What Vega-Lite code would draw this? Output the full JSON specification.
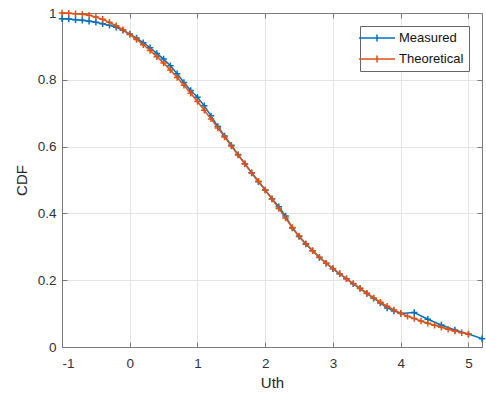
{
  "$schema": "https://vega.github.io/schema/vega-lite/v6.json",
  "width": 420,
  "height": 334,
  "autosize": {"type": "none"},
  "padding": {"left": 62, "top": 13, "right": 4, "bottom": 51},
  "background": "white",
  "config": {
    "view": {"stroke": null},
    "font": "Liberation Sans",
    "axis": {
      "labelFont": "Liberation Sans",
      "titleFont": "Liberation Sans",
      "labelFontSize": 13.5,
      "titleFontSize": 15,
      "titleFontWeight": "normal",
      "labelColor": "#333333",
      "titleColor": "#262626",
      "domainColor": "#7a7a7a",
      "tickColor": "#7a7a7a",
      "gridColor": "#e4e4e4",
      "gridWidth": 1
    }
  },
  "data": {
    "values": [
      {"x": -1.0, "cdf": 0.983, "series": "Measured"},
      {"x": -0.9, "cdf": 0.982, "series": "Measured"},
      {"x": -0.8, "cdf": 0.980, "series": "Measured"},
      {"x": -0.7, "cdf": 0.978, "series": "Measured"},
      {"x": -0.6, "cdf": 0.975, "series": "Measured"},
      {"x": -0.5, "cdf": 0.972, "series": "Measured"},
      {"x": -0.4, "cdf": 0.968, "series": "Measured"},
      {"x": -0.3, "cdf": 0.963, "series": "Measured"},
      {"x": -0.2, "cdf": 0.957, "series": "Measured"},
      {"x": -0.1, "cdf": 0.948, "series": "Measured"},
      {"x": 0.0, "cdf": 0.937, "series": "Measured"},
      {"x": 0.1, "cdf": 0.925, "series": "Measured"},
      {"x": 0.2, "cdf": 0.911, "series": "Measured"},
      {"x": 0.3, "cdf": 0.896, "series": "Measured"},
      {"x": 0.4, "cdf": 0.879, "series": "Measured"},
      {"x": 0.5, "cdf": 0.862, "series": "Measured"},
      {"x": 0.6, "cdf": 0.842, "series": "Measured"},
      {"x": 0.7, "cdf": 0.818, "series": "Measured"},
      {"x": 0.8, "cdf": 0.792, "series": "Measured"},
      {"x": 0.9, "cdf": 0.768, "series": "Measured"},
      {"x": 1.0, "cdf": 0.748, "series": "Measured"},
      {"x": 1.1, "cdf": 0.722, "series": "Measured"},
      {"x": 1.2, "cdf": 0.692, "series": "Measured"},
      {"x": 1.3, "cdf": 0.660, "series": "Measured"},
      {"x": 1.4, "cdf": 0.632, "series": "Measured"},
      {"x": 1.5, "cdf": 0.604, "series": "Measured"},
      {"x": 1.6, "cdf": 0.576, "series": "Measured"},
      {"x": 1.7, "cdf": 0.549, "series": "Measured"},
      {"x": 1.8, "cdf": 0.521, "series": "Measured"},
      {"x": 1.9, "cdf": 0.495, "series": "Measured"},
      {"x": 2.0, "cdf": 0.470, "series": "Measured"},
      {"x": 2.1, "cdf": 0.444, "series": "Measured"},
      {"x": 2.2, "cdf": 0.420, "series": "Measured"},
      {"x": 2.3, "cdf": 0.392, "series": "Measured"},
      {"x": 2.4, "cdf": 0.356, "series": "Measured"},
      {"x": 2.5, "cdf": 0.331, "series": "Measured"},
      {"x": 2.6, "cdf": 0.308, "series": "Measured"},
      {"x": 2.7, "cdf": 0.288, "series": "Measured"},
      {"x": 2.8, "cdf": 0.268, "series": "Measured"},
      {"x": 2.9, "cdf": 0.251, "series": "Measured"},
      {"x": 3.0, "cdf": 0.234, "series": "Measured"},
      {"x": 3.1, "cdf": 0.219, "series": "Measured"},
      {"x": 3.2, "cdf": 0.204, "series": "Measured"},
      {"x": 3.3, "cdf": 0.189, "series": "Measured"},
      {"x": 3.4, "cdf": 0.175, "series": "Measured"},
      {"x": 3.5, "cdf": 0.160, "series": "Measured"},
      {"x": 3.6, "cdf": 0.146, "series": "Measured"},
      {"x": 3.7, "cdf": 0.132, "series": "Measured"},
      {"x": 3.8, "cdf": 0.117, "series": "Measured"},
      {"x": 3.9, "cdf": 0.108, "series": "Measured"},
      {"x": 4.0, "cdf": 0.100, "series": "Measured"},
      {"x": 4.2, "cdf": 0.103, "series": "Measured"},
      {"x": 4.4, "cdf": 0.083, "series": "Measured"},
      {"x": 4.6, "cdf": 0.066, "series": "Measured"},
      {"x": 4.8, "cdf": 0.051, "series": "Measured"},
      {"x": 5.0, "cdf": 0.039, "series": "Measured"},
      {"x": 5.2, "cdf": 0.025, "series": "Measured"},
      {"x": -1.0, "cdf": 1.000, "series": "Theoretical"},
      {"x": -0.9, "cdf": 0.999, "series": "Theoretical"},
      {"x": -0.8, "cdf": 0.998, "series": "Theoretical"},
      {"x": -0.7, "cdf": 0.996, "series": "Theoretical"},
      {"x": -0.6, "cdf": 0.993, "series": "Theoretical"},
      {"x": -0.5, "cdf": 0.988, "series": "Theoretical"},
      {"x": -0.4, "cdf": 0.981, "series": "Theoretical"},
      {"x": -0.3, "cdf": 0.972, "series": "Theoretical"},
      {"x": -0.2, "cdf": 0.962, "series": "Theoretical"},
      {"x": -0.1, "cdf": 0.950, "series": "Theoretical"},
      {"x": 0.0, "cdf": 0.936, "series": "Theoretical"},
      {"x": 0.1, "cdf": 0.921, "series": "Theoretical"},
      {"x": 0.2, "cdf": 0.905, "series": "Theoretical"},
      {"x": 0.3, "cdf": 0.888, "series": "Theoretical"},
      {"x": 0.4, "cdf": 0.869, "series": "Theoretical"},
      {"x": 0.5, "cdf": 0.850, "series": "Theoretical"},
      {"x": 0.6, "cdf": 0.829, "series": "Theoretical"},
      {"x": 0.7, "cdf": 0.807, "series": "Theoretical"},
      {"x": 0.8, "cdf": 0.784, "series": "Theoretical"},
      {"x": 0.9, "cdf": 0.760, "series": "Theoretical"},
      {"x": 1.0, "cdf": 0.735, "series": "Theoretical"},
      {"x": 1.1, "cdf": 0.709, "series": "Theoretical"},
      {"x": 1.2, "cdf": 0.683, "series": "Theoretical"},
      {"x": 1.3, "cdf": 0.656, "series": "Theoretical"},
      {"x": 1.4, "cdf": 0.629, "series": "Theoretical"},
      {"x": 1.5, "cdf": 0.602, "series": "Theoretical"},
      {"x": 1.6, "cdf": 0.575, "series": "Theoretical"},
      {"x": 1.7, "cdf": 0.548, "series": "Theoretical"},
      {"x": 1.8, "cdf": 0.522, "series": "Theoretical"},
      {"x": 1.9, "cdf": 0.496, "series": "Theoretical"},
      {"x": 2.0, "cdf": 0.470, "series": "Theoretical"},
      {"x": 2.1, "cdf": 0.443, "series": "Theoretical"},
      {"x": 2.2, "cdf": 0.415, "series": "Theoretical"},
      {"x": 2.3, "cdf": 0.386, "series": "Theoretical"},
      {"x": 2.4, "cdf": 0.358, "series": "Theoretical"},
      {"x": 2.5, "cdf": 0.332, "series": "Theoretical"},
      {"x": 2.6, "cdf": 0.309, "series": "Theoretical"},
      {"x": 2.7, "cdf": 0.288, "series": "Theoretical"},
      {"x": 2.8, "cdf": 0.269, "series": "Theoretical"},
      {"x": 2.9, "cdf": 0.251, "series": "Theoretical"},
      {"x": 3.0, "cdf": 0.235, "series": "Theoretical"},
      {"x": 3.1, "cdf": 0.219, "series": "Theoretical"},
      {"x": 3.2, "cdf": 0.204, "series": "Theoretical"},
      {"x": 3.3, "cdf": 0.190, "series": "Theoretical"},
      {"x": 3.4, "cdf": 0.176, "series": "Theoretical"},
      {"x": 3.5, "cdf": 0.161, "series": "Theoretical"},
      {"x": 3.6, "cdf": 0.147, "series": "Theoretical"},
      {"x": 3.7, "cdf": 0.134, "series": "Theoretical"},
      {"x": 3.8, "cdf": 0.122, "series": "Theoretical"},
      {"x": 3.9, "cdf": 0.111, "series": "Theoretical"},
      {"x": 4.0, "cdf": 0.101, "series": "Theoretical"},
      {"x": 4.1, "cdf": 0.092, "series": "Theoretical"},
      {"x": 4.2, "cdf": 0.085, "series": "Theoretical"},
      {"x": 4.3, "cdf": 0.078, "series": "Theoretical"},
      {"x": 4.4, "cdf": 0.071, "series": "Theoretical"},
      {"x": 4.5, "cdf": 0.065, "series": "Theoretical"},
      {"x": 4.6, "cdf": 0.059, "series": "Theoretical"},
      {"x": 4.7, "cdf": 0.053, "series": "Theoretical"},
      {"x": 4.8, "cdf": 0.048, "series": "Theoretical"},
      {"x": 4.9, "cdf": 0.043, "series": "Theoretical"},
      {"x": 5.0, "cdf": 0.038, "series": "Theoretical"}
    ]
  },
  "layer": [
    {
      "layer": [
        {
          "transform": [{"filter": "datum.series === 'Measured'"}],
          "mark": {"type": "line", "strokeWidth": 1.5, "point": {"shape": "M-1,0H1M0,-1V1", "filled": false, "size": 42, "strokeWidth": 1.5}},
          "encoding": {
            "x": {"field": "x", "type": "quantitative", "scale": {"domain": [-1, 5.2], "nice": false, "zero": false},
              "axis": {"values": [-1, 0, 1, 2, 3, 4, 5], "labelExpr": "'' + datum.value", "title": "Uth", "grid": true, "tickSize": -5, "labelPadding": 14, "titlePadding": 6}},
            "y": {"field": "cdf", "type": "quantitative", "scale": {"domain": [0, 1], "nice": false},
              "axis": {"values": [0, 0.2, 0.4, 0.6, 0.8, 1], "format": ".1~f", "title": "CDF", "grid": true, "tickSize": -5, "labelPadding": 11, "titlePadding": 8}},
            "color": {"field": "series", "type": "nominal", "scale": {"domain": ["Measured", "Theoretical"], "range": ["#0072BD", "#D95319"]},
              "legend": {"title": null, "orient": "none", "legendX": 298, "legendY": 13, "symbolType": "M-3,0H3M0,-0.6V0.6", "symbolSize": 144, "symbolOffset": 5, "symbolStrokeWidth": 1.5, "labelFontSize": 13, "labelFont": "Liberation Sans", "labelColor": "#111111", "labelOffset": 15, "strokeColor": "#666666", "fillColor": "white", "padding": 5, "rowPadding": 7}}
          }
        },
        {
          "transform": [{"filter": "datum.series === 'Theoretical'"}],
          "mark": {"type": "line", "strokeWidth": 1.5, "point": {"shape": "M-1,0H1M0,-1V1", "filled": false, "size": 42, "strokeWidth": 1.5}},
          "encoding": {
            "x": {"field": "x", "type": "quantitative"},
            "y": {"field": "cdf", "type": "quantitative"},
            "color": {"field": "series", "type": "nominal"}
          }
        }
      ]
    },
    {
      "mark": {"type": "point", "opacity": 0},
      "encoding": {
        "x": {"field": "x", "type": "quantitative", "axis": {"orient": "top", "values": [-1, 0, 1, 2, 3, 4, 5], "labels": false, "title": null, "grid": false, "tickSize": -5}},
        "y": {"field": "cdf", "type": "quantitative", "axis": {"orient": "right", "values": [0, 0.2, 0.4, 0.6, 0.8, 1], "labels": false, "title": null, "grid": false, "tickSize": -5}}
      }
    }
  ],
  "resolve": {"axis": {"x": "independent", "y": "independent"}}
}
